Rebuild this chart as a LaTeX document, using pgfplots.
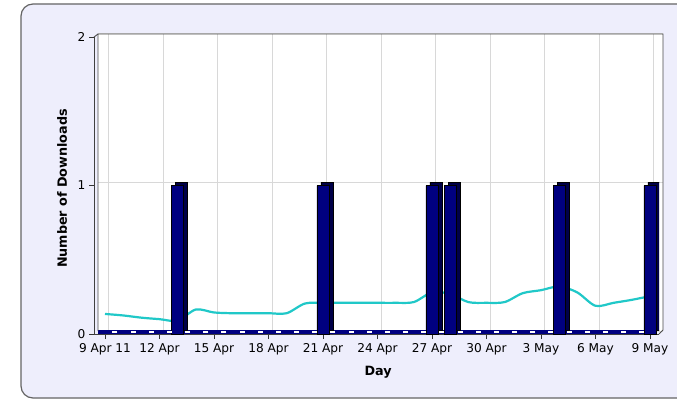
\documentclass[border=0pt]{standalone}
\usepackage{pgfplots}
\pgfplotsset{compat=1.18}
\usepackage{fontspec}
\setmainfont{DejaVu Sans}
\definecolor{BG}{RGB}{238,238,252}
\definecolor{FRAME}{RGB}{100,100,100}
\definecolor{BARFRONT}{RGB}{0,0,128}
\definecolor{BARSIDE}{RGB}{0,0,72}
\definecolor{TREND}{RGB}{32,200,200}
\definecolor{GRID}{RGB}{216,216,216}

\begin{document}
\begin{tikzpicture}[x=1bp,y=1bp]
\useasboundingbox (0,0) rectangle (677,401);
\clip (0,0) rectangle (677,401);
% outer panel
\draw[FRAME, fill=BG, line width=1.2bp, rounded corners=12bp] (21,3) rectangle (720,397);
% back wall
\fill[white] (98,70) rectangle (663,367);
\begin{axis}[
    at={(94bp,67bp)}, anchor=south west, scale only axis,
    width=565bp, height=297bp,
    xmin=-0.605, xmax=30.5, ymin=0, ymax=2,
    axis x line*=bottom, axis y line*=left,
    axis line style={black!75, line width=0.9bp},
    tick align=outside, major tick length=5bp,
    tick style={black!80, line width=0.8bp},
    xtick={0,3,...,30},
    xticklabels={9 Apr 11,12 Apr,15 Apr,18 Apr,21 Apr,24 Apr,27 Apr,30 Apr,3 May,6 May,9 May},
    ytick={0,1,2}, yticklabels={0,1,2},
    xmajorgrids, ymajorgrids,
    major grid style={GRID, line width=1bp, xshift=4bp, yshift=3bp},
    tick label style={font=\fontsize{12.2}{14}\selectfont},
    xticklabel style={yshift=-1bp},
    xlabel={Day}, ylabel={Number of Downloads},
    label style={font=\bfseries\fontsize{12.8}{15}\selectfont},
    xlabel style={at={(axis description cs:0.503,-0.128)}, anchor=center},
    ylabel style={at={(axis description cs:-0.0566,0.49)}, anchor=center},
]
% trend line
\addplot[TREND, line width=2.2bp, smooth, tension=0.5] coordinates {
 (0,0.135) (1,0.125) (2,0.11) (3,0.1) (4,0.09) (5,0.165) (6,0.145) (7,0.14)
 (8,0.14) (9,0.14) (10,0.14) (11,0.205) (12,0.21) (13,0.21) (14,0.21) (15,0.21)
 (16,0.21) (17,0.215) (18,0.28) (19,0.27) (20,0.215) (21,0.21) (22,0.215)
 (23,0.275) (24,0.295) (25,0.32) (26,0.28) (27,0.19) (28,0.21) (29,0.23) (30,0.255)
};
% floor of zero bars
\addplot[BARFRONT, line width=3.5bp, yshift=1.8bp] coordinates {(-0.4,0) (30.3,0)};
\addplot[only marks, mark=-, mark size=2.5bp, white, line width=1.3bp, xshift=10bp, yshift=2bp] coordinates {
 (0,0) (1,0) (2,0) (3,0) (4,0) (5,0) (6,0) (7,0) (8,0) (9,0) (10,0) (11,0) (12,0)
 (13,0) (14,0) (15,0) (16,0) (17,0) (18,0) (19,0) (20,0) (21,0) (22,0) (23,0)
 (24,0) (25,0) (26,0) (27,0) (28,0) (29,0)
};
% downloads (3D bars)
\addplot[ybar, bar width=12bp, fill=BARSIDE, draw=black, line width=0.8bp, xshift=4bp, yshift=3.5bp] coordinates {
 (4,1) (12,1) (18,1) (19,1) (25,1) (30,1)
};
\addplot[ybar, bar width=12bp, fill=BARFRONT, draw=black, line width=0.8bp] coordinates {
 (4,1) (12,1) (18,1) (19,1) (25,1) (30,1)
};
\end{axis}
% 3D frame edges
\draw[black!70, line width=0.9bp] (98,70) -- (98,367) -- (663,367) -- (663,71) -- (659,67);
\draw[black!70, line width=0.9bp] (94,364) -- (98,367);
\end{tikzpicture}
\end{document}
